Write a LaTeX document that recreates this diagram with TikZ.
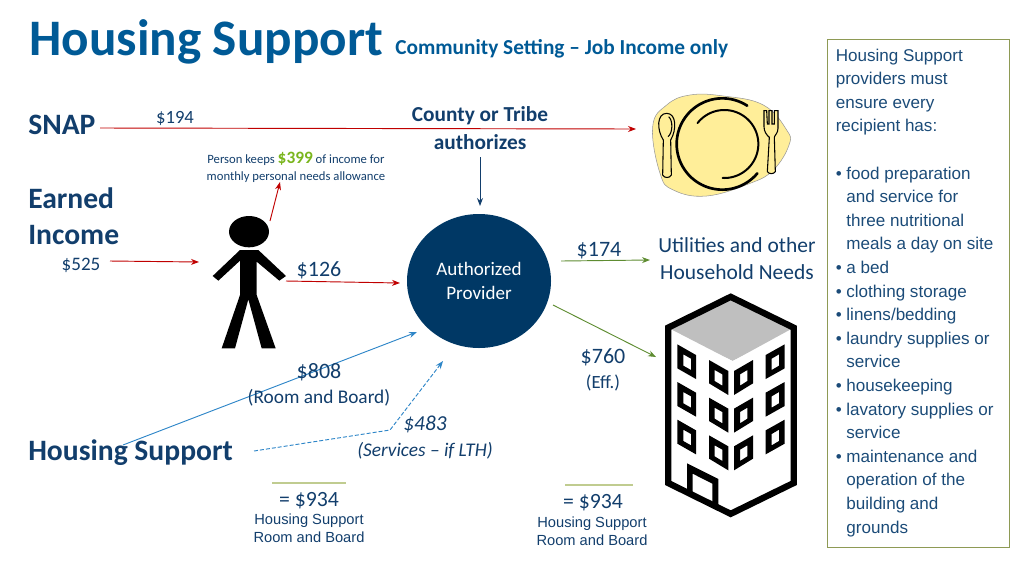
\documentclass[tikz,border=0pt]{standalone}
\usepackage{fontspec}
\setmainfont{Carlito}
\newfontfamily\arialf{Liberation Sans}
\usetikzlibrary{arrows.meta,shapes.geometric}
\definecolor{titleblue}{HTML}{005A96}
\definecolor{navy}{HTML}{123E6C}
\definecolor{circ}{HTML}{003865}
\definecolor{redl}{HTML}{C00000}
\definecolor{bluel}{HTML}{2E86C8}
\definecolor{greenl}{HTML}{5E8C31}
\definecolor{limeg}{HTML}{7AB51D}
\definecolor{olive}{HTML}{8E9A55}
\definecolor{rulec}{HTML}{C0CC90}
\definecolor{plateb}{HTML}{FFEE99}
\definecolor{sidet}{HTML}{1B4B78}
\tikzset{
  lab/.style={text=navy,inner sep=0pt,align=center},
  px/.style={font=\fontsize{#1}{#1}\selectfont},
  tipa/.style={-{Stealth[length=6pt,width=4.5pt]}},
  redarrow/.style={draw=redl,line width=0.7pt,tipa},
  greenarrow/.style={draw=greenl,line width=0.7pt,tipa},
  bluearrow/.style={draw=bluel,line width=0.7pt,tipa},
  rulel/.style={draw=rulec,line width=0.8pt},
  ink/.style={draw=black,line width=0.8pt,fill=plateb},
  pic1/.style={shift={(640,80)},x=0.25pt,y=-0.25pt},
  pic2/.style={shift={(640,285)},x=0.25pt,y=-0.25pt},
  pic3/.style={shift={(190,140)},x=0.25pt,y=-0.25pt}
}
\newcommand{\bul}{\makebox[8pt][l]{•}}
\newcommand{\ind}{\hspace*{8pt}}
\begin{document}
\begin{tikzpicture}[x=0.75pt,y=-0.75pt]
\useasboundingbox (0,0) rectangle (1024,576);
% plate
\begin{scope}[pic1]
\draw[draw=black!40,line width=0.4pt,fill=plateb] plot[smooth cycle,tension=0.7] coordinates {(38,140)(80,75)(150,45)(250,48)(370,75)(440,150)(447,195)(400,270)(330,310)(200,348)(100,330)(60,280)};
\draw[line width=2pt,line cap=round] plot[domain=57:320,samples=70] ({247+137*cos(\x)},{192-137*sin(\x)});
\draw[line width=1.5pt,line cap=round] plot[domain=142:-93,samples=70] ({253+102*cos(\x)},{192-102*sin(\x)});
\draw[ink] (70,180) .. controls (50,150) and (50,100) .. (80,100) .. controls (110,100) and (110,150) .. (92,180) -- (94,285) .. controls (90,295) and (72,295) .. (68,285) -- cycle;
\draw[black,line width=0.8pt] (86,110) .. controls (100,122) and (98,160) .. (84,170);
\draw[ink] (372,92) -- (380,92) -- (382,132) -- (387,132) -- (387,92) -- (396,92) -- (396,132) -- (403,132) -- (403,92) -- (414,92) -- (414,145) .. controls (414,160) and (404,165) .. (403,172) -- (406,275) .. controls (400,283) and (388,283) .. (382,275) -- (388,172) .. controls (380,165) and (372,155) .. (372,140) -- cycle;
\end{scope}
% building
\begin{scope}[pic2]
\fill[black!25] (272,35) -- (461,128) -- (278,228) -- (84,128) -- cycle;
\fill[white] (461,138) -- (278,228) -- (84,138) -- (84,594) -- (272,686) -- (461,594) -- cycle;
\draw[line width=4.75pt,miter limit=10] (272,35.5) -- (461,128) -- (461,594) -- (272,686.5) -- (84.5,594) -- (84.5,128) -- cycle;
\foreach \d in {0,113,226}{
 \begin{scope}[yshift={-\d*0.25pt}]
 \fill[even odd rule] (112,178) -- (168,210) -- (168,282) -- (112,250) -- cycle (130,208) -- (153,221) -- (153,255) -- (130,242) -- cycle;
 \fill[even odd rule] (207,225) -- (265,258) -- (265,330) -- (207,295) -- cycle (224,255) -- (247,268) -- (247,302) -- (224,288) -- cycle;
 \fill[even odd rule] (282,258) -- (339,225) -- (339,295) -- (282,330) -- cycle (300,268) -- (322,255) -- (322,288) -- (300,302) -- cycle;
 \fill[even odd rule] (377,210) -- (434,178) -- (434,250) -- (377,282) -- cycle (395,221) -- (417,208) -- (417,242) -- (395,255) -- cycle;
 \end{scope}
}
\fill[even odd rule] (141,535) -- (235,582) -- (235,668) -- (217,660) -- (217,596) -- (158,566) -- (158,624) -- (141,615) -- cycle;
\end{scope}
% person
\begin{scope}[pic3]
\fill (177,275) ellipse[x radius=60,y radius=47];
\fill (150,330) -- (205,330) -- (288,408) -- (268,422) -- (200,365) -- (200,465) -- (257,625) -- (215,625) -- (175,478) -- (135,625) -- (95,625) -- (150,465) -- (150,362) -- (85,422) -- (68,408) -- cycle;
\end{scope}
% provider
\node[ellipse,fill=circ,draw=none,inner sep=0pt,minimum width=108pt,minimum height=100.5pt,text=white,align=center,font=\fontsize{14.3}{17.7}\selectfont] (prov) at (479,281) {Authorized\\Provider};
% connector ends
\coordinate (c1) at (100,128);\coordinate (c2) at (636,129);
\coordinate (c3) at (480,157);\coordinate (c4) at (480,206);
\coordinate (c5) at (110,261);\coordinate (c6) at (199,262);
\coordinate (c7) at (270,221);\coordinate (c8) at (280,182);
\coordinate (c9) at (286,281);\coordinate (c10) at (400,283);
\coordinate (c11) at (123,445);\coordinate (c12) at (417,332);
\coordinate (c13) at (254,451);\coordinate (c14) at (390,430);\coordinate (c15) at (443,361);
\coordinate (c16) at (561,261);\coordinate (c17) at (650,260);
\coordinate (c18) at (553,305);\coordinate (c19) at (656,357);
\coordinate (c20) at (272,483);\coordinate (c21) at (346,483);
\coordinate (c22) at (565,485);\coordinate (c23) at (633,485);
\draw[redarrow] (c1) -- (c2);
\draw[draw=navy,line width=0.7pt,tipa] (c3) -- (c4);
\draw[redarrow] (c5) -- (c6);
\draw[redarrow] (c7) -- (c8);
\draw[redarrow] (c9) -- (c10);
\draw[bluearrow] (c11) -- (c12);
\draw[bluearrow,dashed,dash pattern=on 3pt off 1.5pt] (c13) -- (c14) -- (c15);
\draw[greenarrow] (c16) -- (c17);
\draw[greenarrow] (c18) -- (c19);
\draw[rulel] (c20) -- (c21);
\draw[rulel] (c22) -- (c23);
% texts
\node[anchor=base west,inner sep=0pt,text=titleblue,px=38.4] (title) at (29,55) {\bfseries Housing Support};
\node[anchor=base west,inner sep=0pt,text=titleblue,px=16] (sub) at (395,54) {\bfseries Community Setting -- Job Income only};
\node[anchor=base west,lab,px=22.2] (snap) at (28,134) {\bfseries SNAP};
\node[lab,px=14] (a194) at (175,118) {\$194};
\node[lab,px=16] (county) at (480,116) {\bfseries County or Tribe};
\node[lab,px=16] (auth) at (480,142.5) {\bfseries authorizes};
\node[lab,px=9.5] (keep1) at (296,158.5) {Person keeps {\fontsize{13}{13}\selectfont\bfseries\color{limeg}\$399} of income for};
\node[lab,px=9.5] (keep2) at (296,177) {monthly personal needs allowance};
\node[anchor=base west,lab,px=22.2] (earn1) at (28,208) {\bfseries Earned};
\node[anchor=base west,lab,px=22.2] (earn2) at (28,244) {\bfseries Income};
\node[lab,px=14.3] (a525) at (81,265) {\$525};
\node[lab,px=16.5] (a126) at (319,270) {\$126};
\node[lab,px=16.5] (a174) at (599,250.5) {\$174};
\node[lab,px=16.1] (util1) at (737,245) {Utilities and other};
\node[lab,px=16.1] (util2) at (737,272) {Household Needs};
\node[lab,px=16.5] (a760) at (603,357) {\$760};
\node[lab,px=14] (eff) at (603,383) {(Eff.)};
\node[lab,px=16.5] (a808) at (319,372) {\$808};
\node[lab,px=14.5] (rb) at (319,397.5) {(Room and Board)};
\node[lab,px=16] (a483) at (425,424) {\itshape \$483};
\node[lab,px=14.5] (svc) at (425,450.5) {\itshape (Services -- if LTH)};
\node[anchor=base west,lab,px=22.2] (hs) at (28,460) {\bfseries Housing Support};
\node[lab,px=16.3] (e1) at (309,500.5) {= \$934};
\node[lab,px=16.3] (e2) at (593,503) {= \$934};
\node[lab,font=\arialf\fontsize{11}{13.2}\selectfont] (n1) at (309,528) {Housing Support\\Room and Board};
\node[lab,font=\arialf\fontsize{11}{13.2}\selectfont] (n2) at (592,531) {Housing Support\\Room and Board};
% sidebar
\node[draw=olive,line width=0.8pt,anchor=north west,inner sep=0pt,minimum width=136.5pt,minimum height=381pt] (side) at (827,39) {};
\node[anchor=north west,inner sep=0pt,align=left,text=sidet,font=\arialf\fontsize{12.8}{17.7}\selectfont] (sidetext) at (835.5,48.5) {Housing Support\\providers must\\ensure every\\recipient has:\\[17.7pt]\bul food preparation\\\ind and service for\\\ind three nutritional\\\ind meals a day on site\\\bul a bed\\\bul clothing storage\\\bul linens/bedding\\\bul laundry supplies or\\\ind service\\\bul housekeeping\\\bul lavatory supplies or\\\ind service\\\bul maintenance and\\\ind operation of the\\\ind building and\\\ind grounds};
\end{tikzpicture}
\end{document}
